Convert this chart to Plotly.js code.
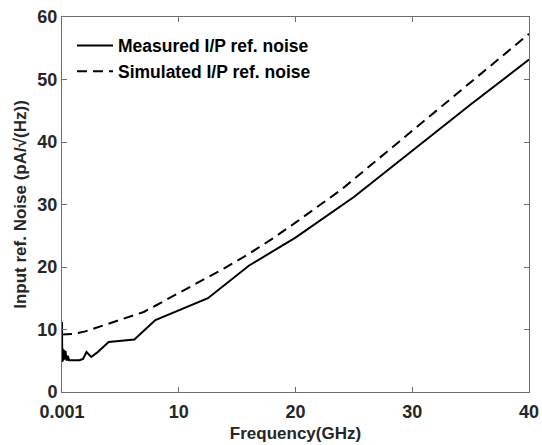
<!DOCTYPE html>
<html><head><meta charset="utf-8">
<script src="https://cdn.plot.ly/plotly-3.0.1.min.js"></script>
<style>html,body{margin:0;padding:0;background:#fff}#chart{width:542px;height:445px}</style>
</head><body><div id="chart"></div>
<script>
const measuredFreq = [0.001,0.02,0.05,0.1,0.15,0.2,0.3,0.4,0.5,0.6,1,1.5,1.8,2.1,2.5,3,4,6.2,8,10,12.5,16,20,25,30,35,40];
const measuredNoise = [11.2,4.8,7,5,6.8,5.2,6.6,5,5.8,5.1,5.1,5.1,5.3,6.4,5.6,6.3,8,8.4,11.5,13,15,20.2,24.7,31.2,38.6,46,53.2];
const simFreq = [0.001,1,2,3,4,5,6,7,8,10,12,14,16,18,20,22,24,26,28,30,32,34,36,38,40];
const simNoise = [9.2,9.3,9.7,10.3,10.9,11.5,12.1,12.8,13.8,15.8,17.9,19.9,22.1,24.5,27.1,29.8,32.5,35.6,38.7,41.9,45.0,48.1,51.2,54.3,57.3];
const xTickVals = [0.001,10,20,30,40];
const xTickText = ['0.001','10','20','30','40'];
const yTickVals = [0,10,20,30,40,50,60];

const font = 'Liberation Sans, Arial, sans-serif';
const traces = [
  {x: measuredFreq, y: measuredNoise, mode:'lines', name:'Measured I/P ref. noise',
   line:{color:'#000', width:2}},
  {x: simFreq, y: simNoise, mode:'lines', name:'Simulated I/P ref. noise',
   line:{color:'#000', width:2, dash:'10px,6px'}}
];
const axisCommon = {showgrid:false, zeroline:false, showline:true, mirror:'ticks',
  linecolor:'#6e6e6e', linewidth:1, ticks:'inside', ticklen:5, tickcolor:'#6e6e6e',
  tickfont:{family:font, size:18, color:'#262626', weight:'bold'}};
const layout = {
  width:542, height:445,
  margin:{l:62, r:13, t:17, b:53},
  paper_bgcolor:'#fff', plot_bgcolor:'#fff',
  showlegend:true,
  legend:{x:0.0214, y:0.972, xanchor:'left', yanchor:'top', bgcolor:'rgba(0,0,0,0)',
    font:{family:font, size:17.5, color:'#000', weight:'bold'}, tracegroupgap:0, itemwidth:36},
  xaxis: Object.assign({}, axisCommon, {range:[0.001,40], tickvals:xTickVals, ticktext:xTickText,
    ticklabelstandoff:3,
    title:{text:'Frequency(GHz)', font:{family:font, size:17, color:'#262626', weight:'bold'}, standoff:6}}),
  yaxis: Object.assign({}, axisCommon, {range:[0,60], tickvals:yTickVals,
    title:{text:'Input ref. Noise (pA/√(Hz))', font:{family:font, size:17, color:'#262626', weight:'bold'}, standoff:6}})
};
Plotly.newPlot('chart', traces, layout, {displayModeBar:false, staticPlot:true});
</script></body></html>
